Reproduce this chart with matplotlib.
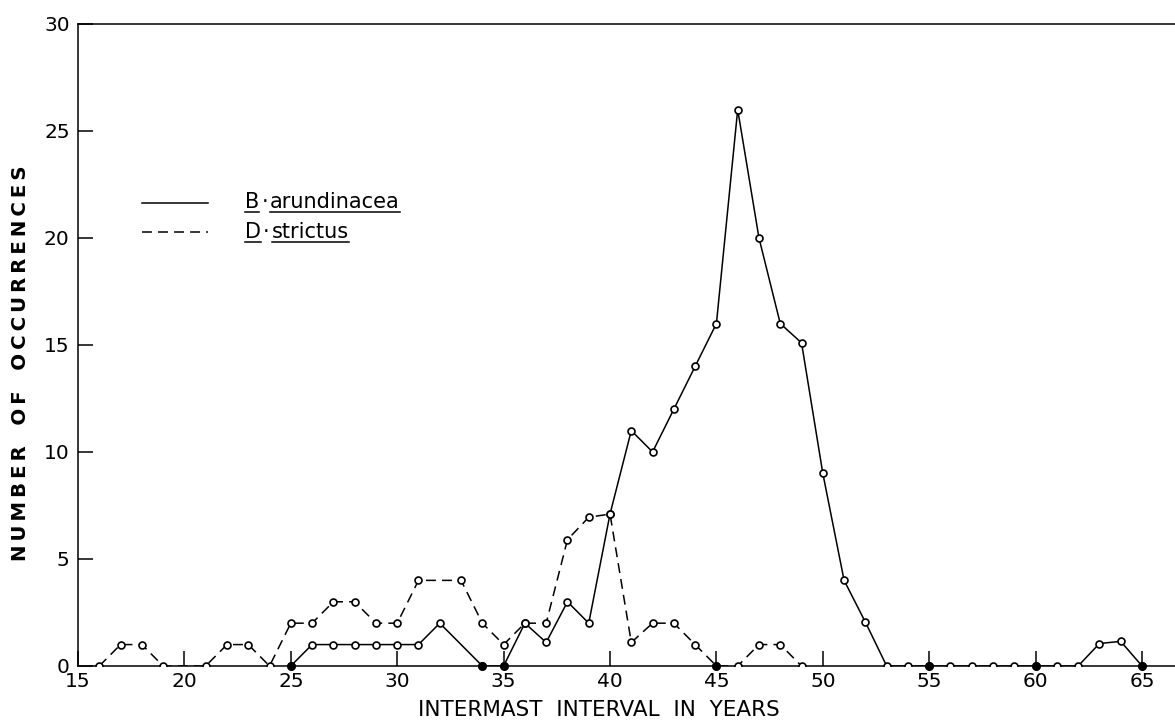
import numpy as np
import matplotlib.pyplot as plt

# ==============================
# Data
# ==============================
b_years = [25, 26, 27, 28, 29, 30, 31, 32, 34, 35, 36, 37, 38, 39, 40, 41, 42, 43,
           44, 45, 46, 47, 48, 49, 50, 51, 52, 53, 54, 55, 56, 57, 58, 59, 60, 61,
           62, 63, 64, 65]
b_counts = [0, 1, 1, 1, 1, 1, 1, 2, 0, 0, 2, 1.1, 3, 2, 7.1, 11, 10, 12,
            14, 16, 26, 20, 16, 15.1, 9, 4, 2.05, 0, 0, 0, 0, 0, 0, 0, 0, 0,
            0, 1.05, 1.15, 0]

d_years = [16, 17, 18, 19, 21, 22, 23, 24, 25, 26, 27, 28, 29, 30, 31, 33, 34, 35,
           36, 37, 38, 39, 40, 41, 42, 43, 44, 45, 46, 47, 48, 49]
d_counts = [0, 1, 1, 0, 0, 1, 1, 0, 2, 2, 3, 3, 2, 2, 4, 4, 2, 1,
            2, 2, 5.9, 6.95, 7.1, 1.1, 2, 2, 1, 0, 0, 1, 1, 0]

# points drawn as solid dots on the baseline
filled_years = [25, 34, 35, 45, 55, 60, 65]
filled_counts = [0, 0, 0, 0, 0, 0, 0]

x_ticks = [15, 20, 25, 30, 35, 40, 45, 50, 55, 60, 65]
y_ticks = [0, 5, 10, 15, 20, 25, 30]

legend_names = [("B", "arundinacea"), ("D", "strictus")]

plt.rcParams["font.family"] = ["DejaVu Sans"]

W, H = 1175, 722
fig = plt.figure(figsize=(W / 100, H / 100), dpi=100)
ax = fig.add_axes([0.0664, 0.0776, 0.9336, 0.8892])

lw = 1.1
dash = (0, (6.5, 4))
ax.plot(b_years, b_counts, color="black", lw=lw, marker="o", ms=5,
        mfc="white", mec="black", mew=1.2, zorder=3)
ax.plot(d_years, d_counts, color="black", lw=lw, ls=dash, marker="o", ms=5,
        mfc="white", mec="black", mew=1.2, zorder=3)
ax.plot(filled_years, filled_counts, ls="none", marker="o", ms=5.5,
        mfc="black", mec="black", zorder=4, clip_on=False)

ax.set_xlim(15, 66.55)
ax.set_ylim(0, 30)
ax.set_xticks(x_ticks)
ax.set_yticks(y_ticks)
ax.tick_params(direction="in", length=11, width=1.1, labelsize=14.5, pad=6)
ax.tick_params(axis="x", pad=4)
ax.spines["right"].set_visible(False)
for s in ["left", "bottom", "top"]:
    ax.spines[s].set_linewidth(1.1)

fig.text(0.510, 0.017, "INTERMAST  INTERVAL  IN  YEARS", ha="center", va="center",
         fontsize=15.5)

thin = "\u2009"
ylab = "   ".join(thin.join(w) for w in ["NUMBER", "OF", "OCCURRENCES"])
fig.text(0.0175, 0.4965, ylab, ha="center", va="center", rotation=90,
         fontsize=14.2, fontweight="bold")

# ==============================
# Hand-made legend with underlined names
# ==============================
def to_data(px, py):
    return ax.transData.inverted().transform((px, H - py))

fig.canvas.draw()
renderer = fig.canvas.get_renderer()

line_rows = [(202.5, "-", 208), (232, dash, 238)]
for (ly, style, base), (genus, species) in zip(line_rows, legend_names):
    (x0, y0), (x1, _) = to_data(142, ly), to_data(208, ly)
    ax.plot([x0, x1], [y0, y0], color="black", lw=lw, ls=style)

    px = 245
    for i, piece in enumerate([genus, "\u00b7", species]):
        t = fig.text(px / W, 1 - base / H, piece, ha="left", va="baseline", fontsize=15)
        bb = t.get_window_extent(renderer)
        if i != 1:
            uy = (H - base - 4) / H
            fig.add_artist(plt.Line2D([bb.x0 / W, bb.x1 / W], [uy, uy],
                                      color="black", lw=1.1))
        px = bb.x1 + 2

plt.savefig("out.png", dpi=100)
